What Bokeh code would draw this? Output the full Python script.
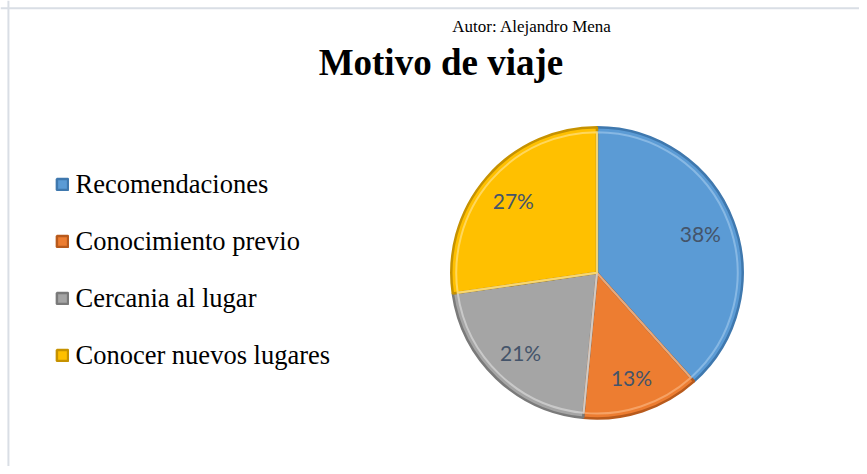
import numpy as np
from bokeh.plotting import figure
from bokeh.models import ColumnDataSource, Range1d, Label, Legend, LegendItem, Span
from bokeh.embed import file_html
from bokeh.resources import INLINE
from bokeh.core.properties import value

# ---- data ----
categories = ["Recomendaciones", "Conocimiento previo", "Cercania al lugar", "Conocer nuevos lugares"]
percents = [38, 13, 21, 27]
labels = ["38%", "13%", "21%", "27%"]
colors = ["#5B9BD5", "#ED7D31", "#A5A5A5", "#FFC000"]
edge_colors = ["#3F78AE", "#B85A1C", "#7A7A7A", "#C69200"]
light_colors = ["#8CBBE6", "#F6A66C", "#CDCDCD", "#FFD966"]
title_text = "Motivo de viaje"
author_text = "Autor: Alejandro Mena"

# canvas fits the window (8px page margin); data units = reference pixels
W, H = 859, 466
RW, RH = 867, 474
sx, sy = W / RW, H / RH
p = figure(width=W, height=H, output_backend="svg", toolbar_location=None,
           x_range=Range1d(0, RW), y_range=Range1d(0, RH),
           x_axis_location=None, y_axis_location=None,
           min_border_left=0, min_border_top=0, min_border_right=0, min_border_bottom=0)
p.grid.visible = False
p.outline_line_color = None
p.background_fill_color = "white"
p.border_fill_color = "white"

def ry(y):
    return RH - y

# chart border (left and top)
p.add_layout(Span(location=8, dimension="height", line_color="#D9DEE5", line_width=2))
p.add_layout(Span(location=ry(8), dimension="width", line_color="#D9DEE5", line_width=2))

# pie geometry
cx, cy, R = 602, ry(277), 147
vals = np.array(percents, dtype=float)
frac = vals / vals.sum()
cum = np.concatenate([[0], np.cumsum(frac)])
start = np.pi / 2 - 2 * np.pi * cum[:-1]
end = np.pi / 2 - 2 * np.pi * cum[1:]
mid = (start + end) / 2

src = ColumnDataSource(dict(cat=categories, start=start, end=end, color=colors,
                            edge=edge_colors, light=light_colors,
                            x=[cx] * 4, y=[cy] * 4))
wr = p.wedge(x="x", y="y", radius=R, start_angle="start", end_angle="end", direction="clock",
             fill_color="color", line_color="edge", line_width=2.5, source=src)
# bevel highlight
p.wedge(x="x", y="y", radius=R - 5, start_angle="start", end_angle="end", direction="clock",
        fill_color=None, line_color="light", line_width=2, line_alpha=0.9, source=src)

# labels
lr = 0.76 * R
lsrc = ColumnDataSource(dict(x=cx + lr * np.cos(mid), y=cy + lr * np.sin(mid), text=labels))
p.text(x="x", y="y", text="text", source=lsrc, text_align="center", text_baseline="middle",
       text_font=value("Lato"), text_font_size="21px", text_color="#44546A")

# title and author line (kept fully visible)
p.add_layout(Label(x=444.5, y=ry(63), text=title_text, text_align="center",
                   text_baseline="alphabetic", text_font="Liberation Serif",
                   text_font_style="bold", text_font_size="37px", text_color="black"))
p.add_layout(Label(x=536.5, y=ry(26), text=author_text, text_align="center",
                   text_baseline="alphabetic", text_font="Liberation Serif",
                   text_font_size="17px", text_color="black"))

# legend
items = [LegendItem(label=c, renderers=[wr], index=i) for i, c in enumerate(categories)]
legend = Legend(items=items, location=(56 * sx, (RH - 362) * sy - 15), orientation="vertical",
                glyph_width=14, glyph_height=14, label_standoff=6, spacing=26,
                label_height=30, padding=0, margin=0, border_line_color=None,
                background_fill_alpha=0, label_text_font="Liberation Serif",
                label_text_font_size="26.5px", label_text_color="black")
p.add_layout(legend)

open("out.html", "w").write(file_html(p, INLINE))
